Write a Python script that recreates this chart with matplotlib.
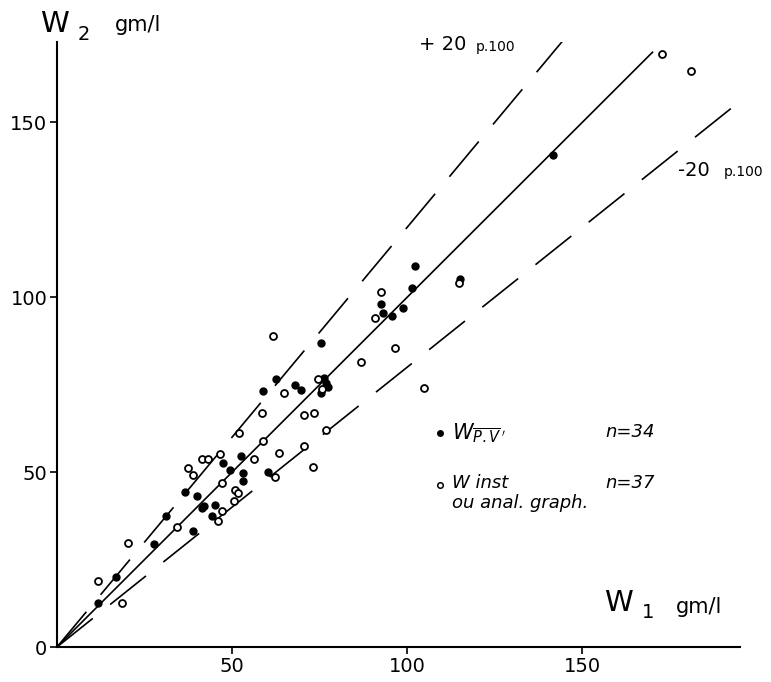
import matplotlib
matplotlib.use("Agg")
import matplotlib.pyplot as plt

# W1 / W2 (gm/l)
pv_w1 = [11.8, 16.8, 27.6, 31.1, 38.7, 36.6, 40.1, 42.1, 41.3, 45.1, 44.2,
         47.3, 49.4, 52.5, 53.2, 53.2, 60.2, 58.9, 62.6, 68.0, 69.7, 75.4,
         76.3, 76.8, 77.4, 75.5, 92.5, 93.2, 95.6, 98.7, 101.3, 102.1, 115.1,
         141.6]
pv_w2 = [12.7, 19.9, 29.5, 37.5, 33.2, 44.3, 43.2, 40.3, 39.6, 40.6, 37.5,
         52.5, 50.5, 54.6, 49.8, 47.5, 49.9, 73.2, 76.5, 74.9, 73.6, 86.8,
         77.0, 75.4, 74.2, 72.5, 97.9, 95.5, 94.7, 96.8, 102.5, 108.9, 105.3,
         140.6]

inst_w1 = [11.8, 18.5, 20.2, 34.2, 37.5, 38.9, 41.5, 43.2, 46.6, 52.1, 56.3,
           58.7, 47.0, 50.9, 51.8, 50.4, 47.0, 46.1, 61.6, 64.7, 74.5, 75.7,
           58.5, 70.6, 73.4, 76.9, 63.5, 70.4, 73.2, 62.3, 86.8, 92.6, 90.9,
           96.6, 104.7, 114.7, 172.8, 181.1]
inst_w2 = [18.9, 12.7, 29.8, 34.4, 51.2, 49.3, 53.7, 53.7, 55.3, 61.2, 53.7,
           58.9, 46.8, 44.9, 44.1, 41.8, 38.9, 36.0, 88.9, 72.7, 76.6, 73.8,
           66.8, 66.3, 66.8, 62.0, 55.5, 57.4, 51.5, 48.7, 81.5, 101.5, 94.1,
           85.5, 73.9, 103.9, 169.4, 164.7]

# reference lines: y = x, +20 %, -20 %
ratios = [1.0, 1.2, 0.8]
line_ends = [170, 146, 195]

plt.rcParams["lines.scale_dashes"] = False

fig = plt.figure(figsize=(7.71, 6.82), dpi=100)
ax = fig.add_axes([0.0739, 0.0513, 0.886, 0.887])

for r, xe in zip(ratios, line_ends):
    if r == 1.0:
        ax.plot([0, xe], [0, r * xe], color="black", lw=1.2, zorder=2)
    else:
        ax.plot([0, xe], [0, r * xe], color="black", lw=1.2,
                linestyle=(0, (33, 16)), zorder=2)

ax.plot(pv_w1, pv_w2, "o", color="black", ms=5, zorder=3)
ax.plot(inst_w1, inst_w2, "o", mfc="white", mec="black", ms=5, mew=1.3,
        zorder=3)

ax.set_xlim(0, 195)
ax.set_ylim(0, 172.9)

for side in ["top", "right"]:
    ax.spines[side].set_visible(False)
for side in ["left", "bottom"]:
    ax.spines[side].set_linewidth(1.5)

ax.set_xticks([50, 100, 150])
ax.set_yticks([0, 50, 100, 150])
ax.tick_params(length=5, width=1.2, labelsize=14, pad=2)

# axis titles
fig.text(40 / 771, 1 - 24 / 682, "W", fontsize=21, va="center", ha="left")
fig.text(78 / 771, 1 - 34 / 682, "2", fontsize=14, va="center", ha="left")
fig.text(115 / 771, 1 - 25 / 682, "gm/l", fontsize=15, va="center", ha="left")

fig.text(604 / 771, 1 - 603 / 682, "W", fontsize=21, va="center", ha="left")
fig.text(642 / 771, 1 - 612 / 682, "1", fontsize=14, va="center", ha="left")
fig.text(676 / 771, 1 - 607 / 682, "gm/l", fontsize=15, va="center", ha="left")

# line annotations
fig.text(419 / 771, 1 - 45 / 682, "+ 20", fontsize=14, va="center", ha="left")
fig.text(476 / 771, 1 - 47 / 682, "p.100", fontsize=10, va="center", ha="left")
fig.text(678 / 771, 1 - 170 / 682, "-20", fontsize=14, va="center", ha="left")
fig.text(724 / 771, 1 - 172 / 682, "p.100", fontsize=10, va="center", ha="left")

# legend drawn by hand
ax.plot([(440 - 57) / 3.5], [(647 - 433) / 3.5], "o", color="black", ms=4,
        clip_on=False)
ax.plot([(440 - 57) / 3.5], [(647 - 485) / 3.5], "o", mfc="white",
        mec="black", ms=4, mew=1.1, clip_on=False)
fig.text(452 / 771, 1 - 434 / 682, r"$W_{\overline{P.V}\,'}$", fontsize=15,
         va="center", ha="left")
fig.text(605 / 771, 1 - 432 / 682, "n=34", fontsize=13, style="italic",
         va="center", ha="left")
fig.text(452 / 771, 1 - 483 / 682, "W inst", fontsize=13, style="italic",
         va="center", ha="left")
fig.text(605 / 771, 1 - 483 / 682, "n=37", fontsize=13, style="italic",
         va="center", ha="left")
fig.text(452 / 771, 1 - 503 / 682, "ou anal. graph.", fontsize=13,
         style="italic", va="center", ha="left")

fig.savefig("out.png", dpi=100)
